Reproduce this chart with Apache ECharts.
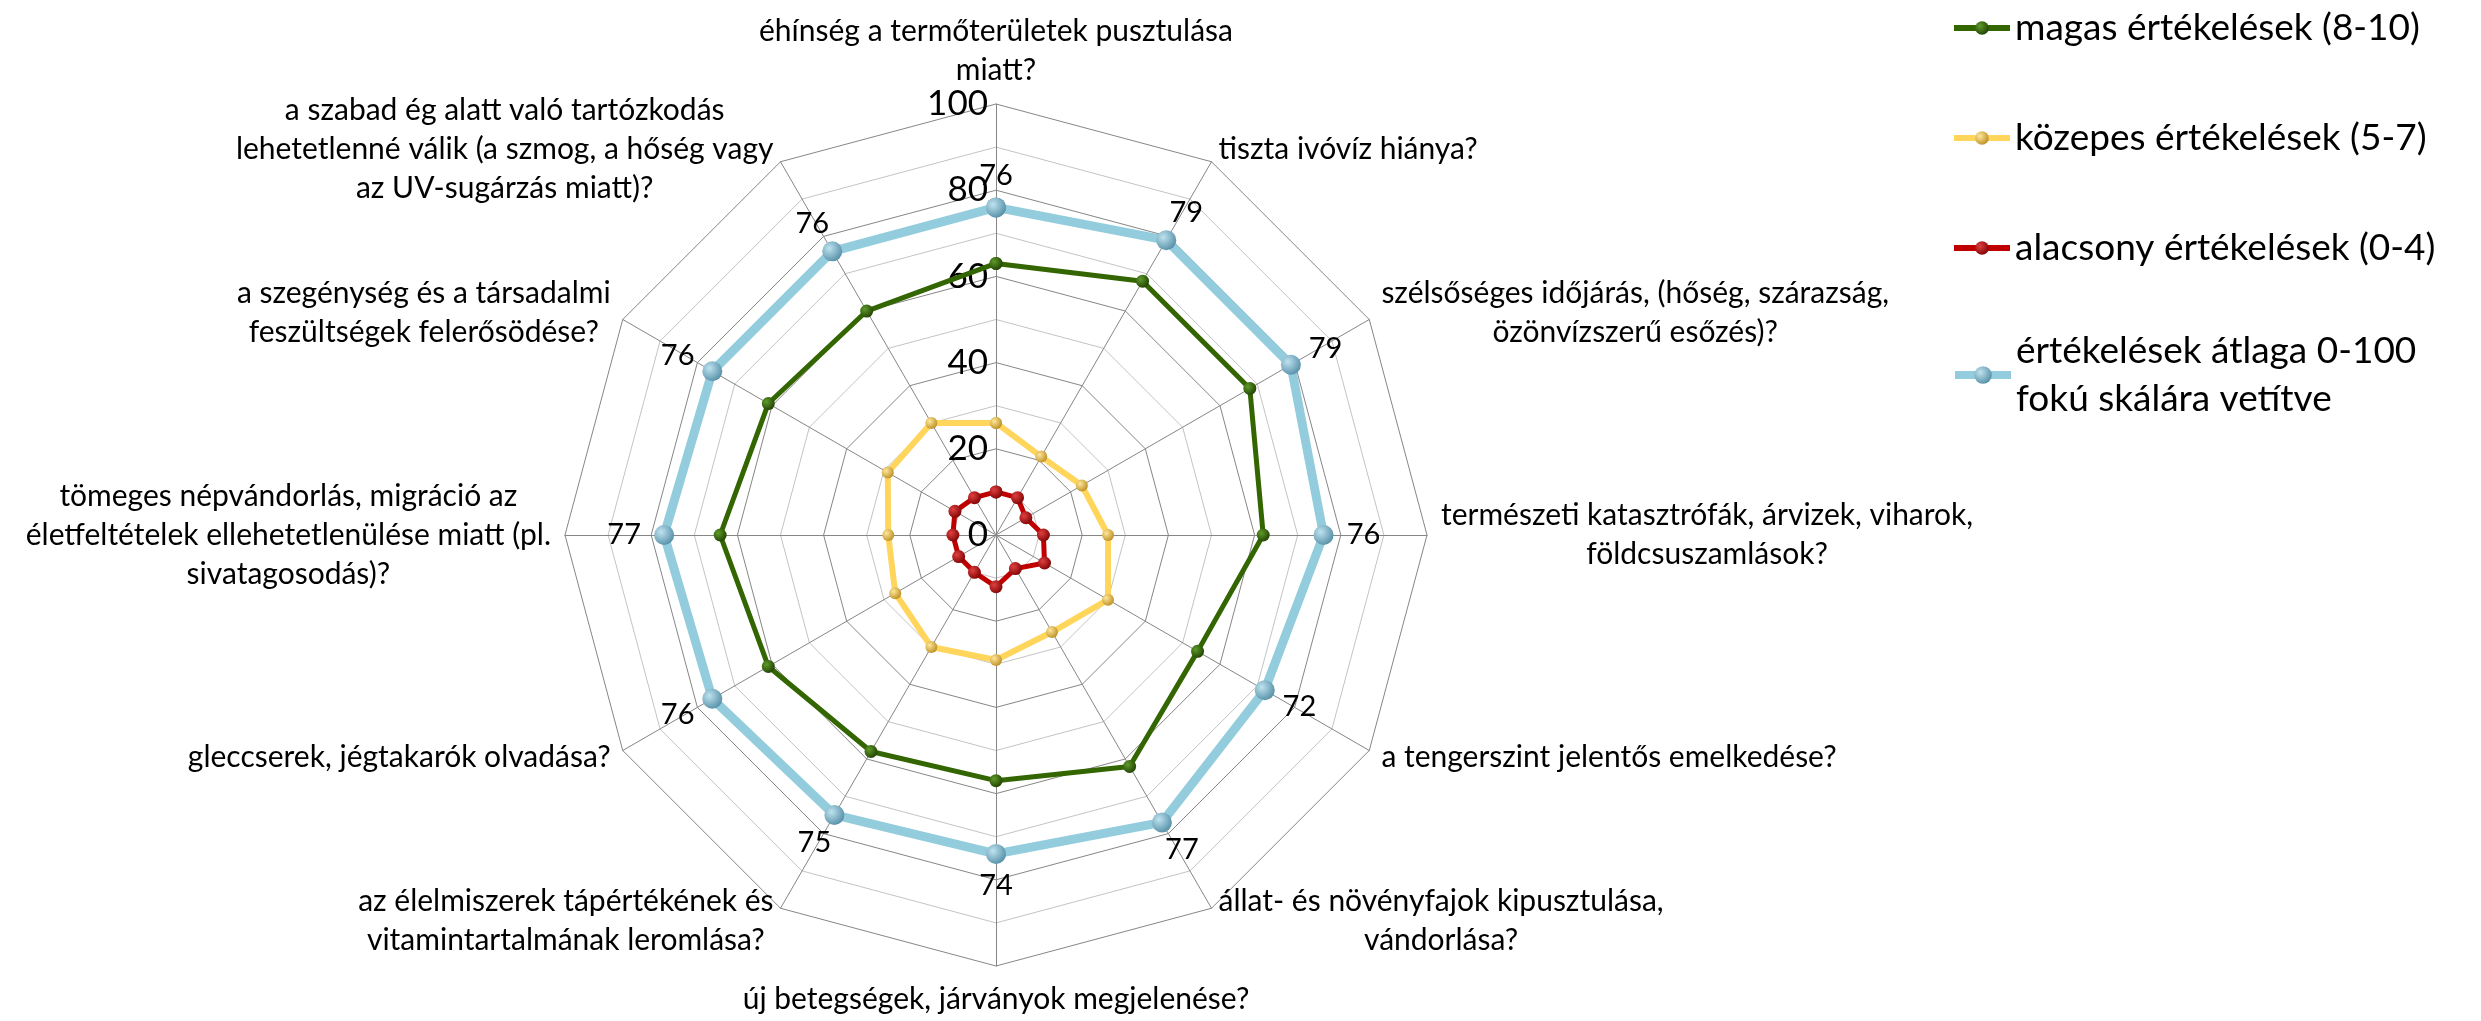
<!DOCTYPE html>
<html>
<head>
<meta charset="utf-8">
<script src="https://cdn.jsdelivr.net/npm/echarts@6/dist/echarts.min.js"></script>
<style>
  html, body { margin: 0; padding: 0; background: #fff; }
  #chart { width: 2481px; height: 1021px; }
</style>
</head>
<body>
<div id="chart"></div>
<script>
// kategóriák, felülről indulva az óramutató járásával megegyezően
const categories = [
  'éhínség a termőterületek pusztulása\nmiatt?',
  'tiszta ivóvíz hiánya?',
  'szélsőséges időjárás, (hőség, szárazság,\nözönvízszerű esőzés)?',
  'természeti katasztrófák, árvizek, viharok,\nföldcsuszamlások?',
  'a tengerszint jelentős emelkedése?',
  'állat- és növényfajok kipusztulása,\nvándorlása?',
  'új betegségek, járványok megjelenése?',
  'az élelmiszerek tápértékének és\nvitamintartalmának leromlása?',
  'gleccserek, jégtakarók olvadása?',
  'tömeges népvándorlás, migráció az\néletfeltételek ellehetetlenülése miatt (pl.\nsivatagosodás)?',
  'a szegénység és a társadalmi\nfeszültségek felerősödése?',
  'a szabad ég alatt való tartózkodás\nlehetetlenné válik (a szmog, a hőség vagy\naz UV-sugárzás miatt)?'
]

const seriesNames = [
  'magas értékelések (8-10)',
  'közepes értékelések (5-7)',
  'alacsony értékelések (0-4)',
  'értékelések átlaga 0-100 fokú skálára vetítve'
]

const magas = [63, 68, 68, 62, 54, 62, 57, 58, 61, 64, 61, 60]
const kozepes = [26, 21, 23, 26, 30, 26, 29, 30, 27, 25, 29, 30]
const alacsony = [10, 10, 8, 11, 13, 9, 12, 10, 10, 10, 11, 10]
const atlag = [76, 79, 79, 76, 72, 77, 74, 75, 76, 77, 76, 76]

// tengely feliratok
const tickValues = [0, 20, 40, 60, 80, 100]

const CENTER = [996, 535]
const RADIUS = 431
const FONT = 'Lato'

// gömb hatású jelölő
function ball(light, dark) {
  return {
    type: 'radial', x: 0.35, y: 0.35, r: 0.75,
    colorStops: [
      { offset: 0, color: light },
      { offset: 1, color: dark }
    ]
  }
}

// a radar az óramutatóval ellentétesen halad, ezért a neveket megfordítjuk
const radarOrder = categories.map((_, i) => (categories.length - i) % categories.length)

// pontok polár koordinátákban, a kört az első pont ismétlésével zárjuk
function loop(values) {
  const pts = values.map((v, i) => ({ value: [v, i] }))
  pts.push({ value: [values[0], values.length], label: { show: false } })
  return pts
}

function avgLabels(values) {
  const pts = loop(values)
  pts.forEach((p, i) => {
    if (i >= values.length) return
    const a = (i * 2 * Math.PI) / values.length
    p.label = { show: true, offset: [40 * Math.sin(a), -32 * Math.cos(a)] }
  })
  return pts
}

function lineSeries(name, data, lineColor, width, marker, size, z) {
  return {
    name: name,
    type: 'line',
    coordinateSystem: 'polar',
    data: data,
    symbol: 'circle',
    symbolSize: size,
    showAllSymbol: true,
    z: z,
    lineStyle: { color: lineColor, width: width },
    itemStyle: { color: marker, borderWidth: 0 },
    emphasis: { disabled: true },
    animation: false
  }
}

const mycharts = echarts.init(document.getElementById('chart'))

const avgSeries = lineSeries(seriesNames[3], avgLabels(atlag), '#93cddd', 9,
  ball('#bfe3ef', '#4f8aa3'), 20, 5)
avgSeries.label = {
  show: false,
  position: 'inside',
  color: '#000',
  fontFamily: FONT,
  fontSize: 29,
  formatter: p => String(p.value[0])
}

const legendText = { color: '#000', fontFamily: FONT, fontSize: 37, lineHeight: 48 }

mycharts.setOption({
  backgroundColor: '#fff',
  radar: {
    center: CENTER,
    radius: RADIUS,
    startAngle: 90,
    shape: 'polygon',
    splitNumber: 10,
    indicator: radarOrder.map(i => ({ name: categories[i], min: 0, max: 100 })),
    nameGap: 14,
    axisName: {
      color: '#000',
      fontFamily: FONT,
      fontSize: 30,
      lineHeight: 39,
      formatter: name => name.split('\n').map(l => '{c|' + l + '}').join('\n'),
      rich: {
        c: { align: 'center', color: '#000', fontFamily: FONT, fontSize: 30, lineHeight: 39 }
      }
    },
    axisLine: { lineStyle: { color: '#868686', width: 1 } },
    splitLine: { lineStyle: { color: ['#868686', '#c4c4c4'], width: 1 } },
    splitArea: { show: false }
  },
  polar: { center: CENTER, radius: RADIUS },
  angleAxis: {
    type: 'value',
    min: 0,
    max: categories.length,
    startAngle: 90,
    clockwise: true,
    show: false
  },
  radiusAxis: {
    type: 'value',
    min: 0,
    max: 100,
    interval: 20,
    axisLine: { show: false },
    axisTick: { show: false },
    splitLine: { show: false },
    axisLabel: {
      show: true,
      color: '#000',
      fontFamily: FONT,
      fontSize: 35,
      margin: 8,
      formatter: v => (tickValues.indexOf(v) >= 0 ? String(v) : '')
    }
  },
  legend: [
    {
      data: [
        { name: seriesNames[0], lineStyle: { width: 6 } },
        { name: seriesNames[1], lineStyle: { width: 6 } },
        { name: seriesNames[2], lineStyle: { width: 6 } }
      ],
      orient: 'vertical',
      left: 1951,
      top: 4,
      padding: 0,
      itemGap: 62,
      itemWidth: 56,
      itemHeight: 17,
      textStyle: legendText
    },
    {
      data: [{ name: seriesNames[3], lineStyle: { width: 8 } }],
      orient: 'vertical',
      left: 1951,
      top: 303,
      padding: 0,
      itemWidth: 56,
      itemHeight: 22,
      formatter: () => 'értékelések átlaga 0-100\nfokú skálára vetítve',
      textStyle: Object.assign({}, legendText, { padding: [48, 0, 0, 0] })
    }
  ],
  series: [
    lineSeries(seriesNames[0], loop(magas), '#336600', 5, ball('#5f9a2a', '#1d3d00'), 13, 4),
    lineSeries(seriesNames[1], loop(kozepes), '#ffd55c', 6, ball('#ffe79a', '#b88a1c'), 12, 3),
    lineSeries(seriesNames[2], loop(alacsony), '#c00000', 5, ball('#e04040', '#7a0000'), 13, 6),
    avgSeries
  ]
})
</script>
</body>
</html>
